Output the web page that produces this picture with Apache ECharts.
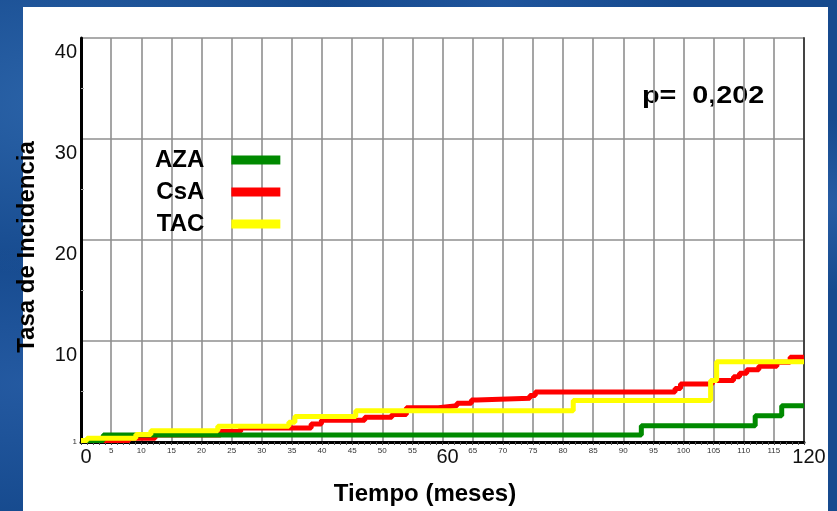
<!DOCTYPE html>
<html>
<head>
<meta charset="utf-8">
<script src="https://cdn.jsdelivr.net/npm/echarts@6/dist/echarts.min.js"></script>
<style>
html,body{margin:0;padding:0;}
body{width:837px;height:511px;overflow:hidden;position:relative;
background:
 radial-gradient(ellipse at 8% 20%, rgba(60,120,190,0.55) 0, rgba(60,120,190,0) 30%),
 radial-gradient(ellipse at 3% 75%, rgba(50,105,180,0.5) 0, rgba(50,105,180,0) 25%),
 radial-gradient(ellipse at 98% 40%, rgba(55,110,185,0.5) 0, rgba(55,110,185,0) 20%),
 radial-gradient(ellipse at 60% 0%, rgba(40,95,170,0.5) 0, rgba(40,95,170,0) 25%),
 #164a8e;}
#panel{position:absolute;left:23px;top:7px;width:805px;height:504px;background:#fff;}
#chart{position:absolute;left:0;top:0;width:837px;height:511px;}
</style>
</head>
<body>
<div id="panel"></div>
<div id="chart"></div>
<script>
// Data (months, cumulative incidence)
const seriesNames = ['AZA', 'CsA', 'TAC'];
const azaMonths = [0, 3.7, 93.0, 111.9, 116.3, 120];
const azaValues = [0.15, 0.7, 1.6, 2.6, 3.6, 3.6];
const csaMonths = [0, 8, 12.3, 23.2, 26.5, 38.2, 39.9, 47.1, 51.6, 54, 59.3, 62.4, 64.8, 65.7, 74.5, 75.4, 98.6, 99.5, 104.8, 108.3, 109.3, 110.5, 112.5, 115.5, 117.7, 120];
const csaValues = [0.15, 0.38, 0.7, 1.05, 1.38, 1.77, 2.15, 2.45, 2.73, 3.4, 3.58, 3.84, 4.15, 4.33, 4.6, 4.95, 5.3, 5.75, 6.08, 6.45, 6.8, 7.15, 7.5, 7.9, 8.4, 8.4];
const tacMonths = [0, 1.0, 9.1, 11.6, 22.7, 34.5, 35.5, 45.6, 81.7, 104.5, 105.5, 120];
const tacValues = [0.15, 0.38, 0.75, 1.12, 1.55, 1.95, 2.52, 3.1, 4.1, 6.1, 7.95, 7.95];
const yTicks = [0, 10, 20, 30, 40];
const yTickLabels = ['1', '10', '20', '30', '40'];
const bigXLabels = [0, 60, 120];
const pText = 'p=  0,202';

function pairs(xs, ys) { return xs.map((x, i) => [x, ys[i]]); }

const chart = echarts.init(document.getElementById('chart'), null, {renderer: 'canvas'});
const FONT = 'Liberation Sans, Arial, Helvetica, sans-serif';
const option = {
  backgroundColor: 'transparent',
  animation: false,
  textStyle: {fontFamily: FONT},
  grid: {left: 81, top: 38, width: 723, height: 406, containLabel: false},
  legend: {
    orient: 'vertical', left: 150, top: 143, align: 'right',
    itemWidth: 49, itemHeight: 9, itemGap: 8, icon: 'rect',
    data: seriesNames,
    textStyle: {fontSize: 24, fontWeight: 'bold', color: '#000', fontFamily: FONT, padding: [0, 22, 0, 0]}
  },
  graphic: [{
    type: 'text', x: 642, y: 85, scaleX: 1.25,
    style: {text: pText, fontSize: 23, fontWeight: 'bold', fill: '#000', fontFamily: FONT}
  }],
  xAxis: {
    type: 'value', min: 0, max: 120, interval: 5,
    name: 'Tiempo (meses)', nameLocation: 'middle', nameGap: 40,
    nameTextStyle: {fontSize: 24, fontWeight: 'bold', color: '#000', fontFamily: FONT, padding: [0, 35, 0, 0], verticalAlign: 'top'},
    axisLine: {show: true, onZero: false, lineStyle: {color: '#000', width: 3}},
    axisTick: {show: true, length: 3, lineStyle: {color: '#444', width: 1}},
    minorTick: {show: true, splitNumber: 5, length: 3, lineStyle: {color: '#555', width: 1}},
    splitLine: {show: true, lineStyle: {color: '#8f8f8f', width: 1.6}},
    axisLabel: {
      margin: 5, showMinLabel: true, showMaxLabel: true,
      formatter: v => bigXLabels.indexOf(v) >= 0 ? '{b|' + v + '}' : '{s|' + v + '}',
      rich: {
        b: {fontSize: 20, color: '#111', fontFamily: FONT, padding: [0, 0, 0, 10]},
        s: {fontSize: 8, color: '#333', fontFamily: FONT}
      }
    }
  },
  yAxis: [{
    type: 'value', min: 0, max: 40, interval: 10,
    name: 'Tasa de Incidencia', nameLocation: 'middle', nameGap: 42,
    nameTextStyle: {fontSize: 24, fontWeight: 'bold', color: '#000', fontFamily: FONT, padding: [0, 14, 0, 0]},
    axisLine: {show: true, lineStyle: {color: '#000', width: 3}},
    axisTick: {show: false, inside: true},
    minorTick: {show: true, splitNumber: 2, length: 3, lineStyle: {color: '#aaa'}},
    splitLine: {show: true, lineStyle: {color: '#8f8f8f', width: 1.6}},
    axisLabel: {
      margin: 4,
      formatter: v => {
        const i = yTicks.indexOf(v);
        const t = i >= 0 ? yTickLabels[i] : String(v);
        return v === 0 ? '{s|' + t + '}' : '{b|' + t + '}';
      },
      rich: {
        b: {fontSize: 20, color: '#111', fontFamily: FONT, padding: [28, 0, 0, 0]},
        s: {fontSize: 8, color: '#333', fontFamily: FONT}
      }
    }
  }, {
    type: 'value', min: 0, max: 40, interval: 10, position: 'right',
    axisLine: {show: true, lineStyle: {color: '#444', width: 2}},
    axisTick: {show: false}, axisLabel: {show: false}, splitLine: {show: false}
  }],
  series: [
    {name: 'AZA', type: 'line', step: 'end', symbol: 'none', z: 3,
     data: pairs(azaMonths, azaValues), color: '#008a00',
     lineStyle: {width: 5, color: '#008a00'}},
    {name: 'CsA', type: 'line', step: 'end', symbol: 'none', z: 2,
     data: pairs(csaMonths, csaValues), color: '#ff0000',
     lineStyle: {width: 5, color: '#ff0000'}},
    {name: 'TAC', type: 'line', step: 'end', symbol: 'none', z: 4,
     data: pairs(tacMonths, tacValues), color: '#ffff00',
     lineStyle: {width: 5, color: '#ffff00'}}
  ]
};
chart.setOption(option);
</script>
</body>
</html>
